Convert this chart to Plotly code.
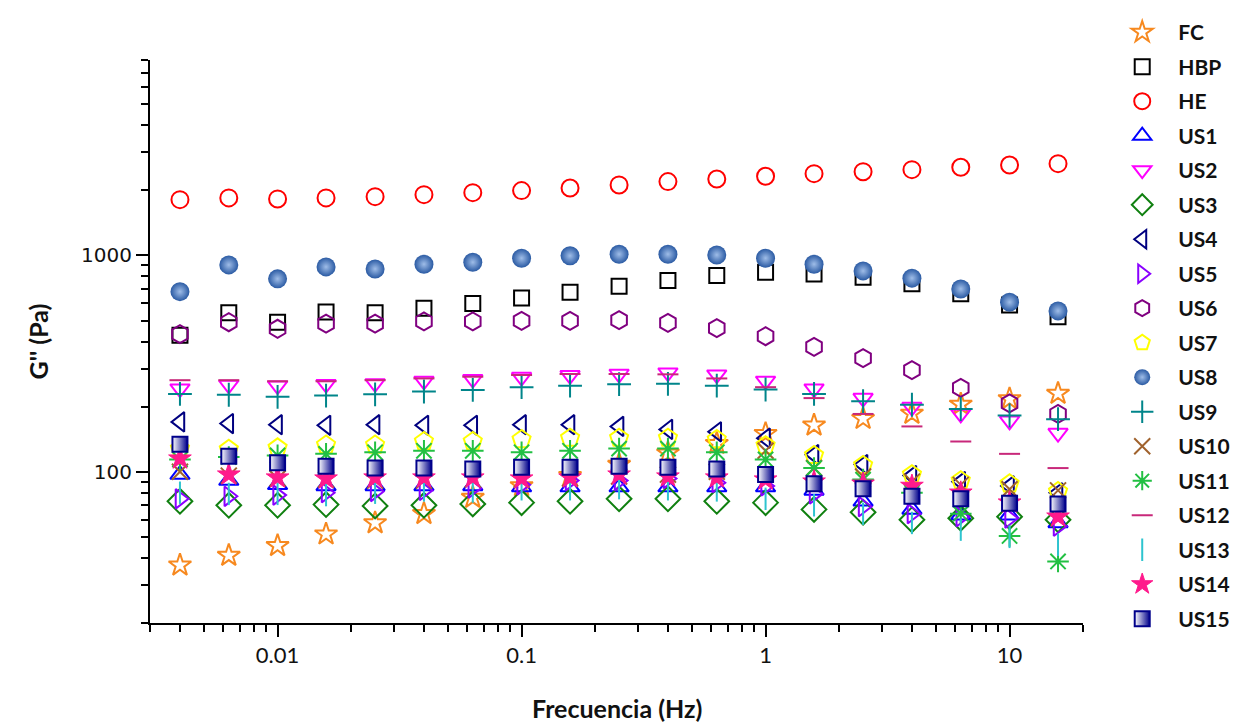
import plotly.graph_objects as go

freq = [0.00398, 0.00631, 0.01, 0.0158, 0.0251, 0.0398, 0.0631, 0.1, 0.158, 0.251,
        0.398, 0.631, 1.0, 1.58, 2.51, 3.98, 6.31, 10.0, 15.8]

FC = [37, 41, 45.5, 51.5, 58, 64, 76, 86, 96, 108, 122, 135, 150, 164, 176, 186, 205, 217, 230]
HBP = [428, 543, 491, 547, 543, 570, 599, 636, 676, 721, 765, 807, 836, 821, 793, 739, 664, 590, 520]
HE = [1810, 1844, 1824, 1844, 1869, 1909, 1950, 1993, 2050, 2117, 2193, 2256, 2322, 2387, 2438, 2491, 2555, 2618, 2655]
US1 = [97, 91, 87, 86, 86, 86, 86, 85, 85, 85, 85, 85, 85, 82, 73, 67, 63, 63, 58]
US2 = [242, 252, 250, 254, 256, 263, 268, 274, 279, 283, 287, 281, 263, 242, 219, 199, 185, 172, 151]
US3 = [73, 70, 70, 70.5, 69.5, 70, 71, 72, 73, 75, 75, 73, 72, 67, 65, 60, 61, 62, 60]
US4 = [170, 167, 165, 164, 165, 164, 164, 165, 165, 162, 157, 153, 143, 120, 108, 96, 90, 86, 80]
US5 = [75, 77, 78, 80, 81, 82, 84, 87, 91, 91, 93, 89, 86, 79, 69, 64, 62, 61, 56]
US6 = [433, 491, 458, 484, 484, 495, 495, 498, 498, 502, 488, 461, 423, 378, 335, 295, 244, 207, 185]
US7 = [128, 127, 129, 133, 133, 138, 138, 141, 143, 143, 143, 141, 132, 119, 107, 97, 91, 88, 81]
US8 = [680, 904, 779, 885, 866, 911, 930, 971, 996, 1013, 1013, 1005, 971, 911, 848, 785, 700, 608, 554]
US9 = [229, 227, 222, 225, 228, 235, 239, 246, 250, 254, 255, 250, 240, 229, 212, 204, 195, 182, 175]
US10 = [100, 96, 93, 92, 91, 91, 92, 92, 93, 95, 97, 100, 125, 104, 95, 90, 87, 83, 82]
US11 = [114, 117, 119, 121, 123, 125, 125, 123, 125, 128, 128, 123, 114, 104, 92, 80, 64, 50.5, 38.5]
US12 = [265, 265, 262, 262, 265, 270, 275, 280, 283, 283, 282, 270, 246, 219, 185, 162, 138, 121, 104]
US13 = [80, 79, 79, 78, 80, 82, 81, 83, 83, 84, 83, 82, 75, 70, 64, 58, 54, 50, 46]
US14 = [115, 97, 94, 93, 94, 94, 94, 93, 94, 97, 95, 94, 92, 90, 88, 86, 80, 72, 62]
US15 = [134, 118, 110, 106, 104, 104, 103, 105, 105, 106, 105, 103, 97, 88, 83.5, 77, 75, 71.6, 71]

x_tickvals = [0.01, 0.1, 1, 10]
x_ticktext = ["0.01", "0.1", "1", "10"]
y_tickvals = [100, 1000]
y_ticktext = ["100", "1000"]

series = [
    ("FC", FC, dict(symbol="star-open", size=17, color="#F7891F", line=dict(color="#F7891F", width=2))),
    ("HBP", HBP, dict(symbol="square-open", size=15, color="#000000", line=dict(color="#000000", width=2))),
    ("HE", HE, dict(symbol="circle-open", size=17, color="#FF0000", line=dict(color="#FF0000", width=2))),
    ("US1", US1, dict(symbol="triangle-up-open", size=17, color="#0000FF", line=dict(color="#0000FF", width=2))),
    ("US2", US2, dict(symbol="triangle-down-open", size=17, color="#FF00FF", line=dict(color="#FF00FF", width=2))),
    ("US3", US3, dict(symbol="diamond-open", size=19, color="#108010", line=dict(color="#108010", width=2))),
    ("US4", US4, dict(symbol="triangle-left-open", size=17, color="#000080", line=dict(color="#000080", width=2))),
    ("US5", US5, dict(symbol="triangle-right-open", size=17, color="#8A00FF", line=dict(color="#8A00FF", width=2))),
    ("US6", US6, dict(symbol="hexagon-open", size=18, color="#800080", line=dict(color="#800080", width=2))),
    ("US7", US7, dict(symbol="pentagon-open", size=19, color="#FFFF00", line=dict(color="#FFFF00", width=2))),
    ("US8", US8, dict(symbol="circle", size=19, color="#2A5AA3",
                      gradient=dict(type="radial", color="#9FBDE8"), line=dict(width=0))),
    ("US9", US9, dict(symbol="cross-thin-open", size=17, color="#00858A", line=dict(color="#00858A", width=2))),
    ("US10", US10, dict(symbol="x-thin-open", size=16, color="#A0622D", line=dict(color="#A0622D", width=2))),
    ("US11", US11, dict(symbol="asterisk-open", size=18, color="#22C043", line=dict(color="#22C043", width=2))),
    ("US12", US12, dict(symbol="line-ew-open", size=15, color="#C8287A", line=dict(color="#C8287A", width=2))),
    ("US13", US13, dict(symbol="line-ns-open", size=16, color="#2EC4CF", line=dict(color="#2EC4CF", width=2))),
    ("US14", US14, dict(symbol="star", size=17, color="#FF1A8C", line=dict(color="#FF1A8C", width=1))),
    ("US15", US15, dict(symbol="square", size=15, color="#FFFFFF",
                        gradient=dict(type="horizontal", color="#00008B"), line=dict(color="#00008B", width=2))),
]

fig = go.Figure()
for name, vals, mk in series:
    fig.add_trace(go.Scatter(x=freq, y=vals, mode="markers", name=name, marker=mk,
                             legendgroup=name, cliponaxis=False))

def minors(lo_exp, hi_exp, lo, hi):
    out = []
    for e in range(lo_exp, hi_exp + 1):
        for m in range(2, 10):
            v = m * 10 ** e
            if lo <= v <= hi:
                out.append(v)
    return out

fig.update_layout(
    width=1236, height=725,
    margin=dict(l=150, r=153, t=60, b=102, autoexpand=False),
    paper_bgcolor="white", plot_bgcolor="white",
    showlegend=True,
    legend=dict(xref="container", yref="container", x=0.895, xanchor="left",
                y=0.9834, yanchor="top",
                traceorder="grouped", tracegroupgap=4.2, maxheight=720,
                font=dict(family="Lato", size=21, color="#111111", weight="bold"),
                itemwidth=62, bgcolor="rgba(0,0,0,0)"),
    xaxis=dict(type="log", range=[-2.5229, 1.3010], showgrid=False, zeroline=False,
               automargin=False,
               showline=True, linecolor="black", linewidth=2,
               ticks="outside", ticklen=12, tickwidth=2, tickcolor="black",
               tickmode="array", tickvals=x_tickvals, ticktext=x_ticktext,
               tickfont=dict(family="Lato", size=22, color="#111111"),
               minor=dict(ticks="outside", ticklen=7, tickwidth=1.5, tickcolor="black",
                          tickmode="array", tickvals=minors(-3, 1, 0.003, 20), showgrid=False)),
    yaxis=dict(type="log", range=[1.3010, 3.9031], showgrid=False, zeroline=False,
               automargin=False,
               showline=True, linecolor="black", linewidth=2,
               ticks="outside", ticklen=12, tickwidth=2, tickcolor="black",
               tickmode="array", tickvals=y_tickvals, ticktext=y_ticktext,
               tickfont=dict(family="DejaVu Sans", size=20, color="#111111"),
               minor=dict(ticks="outside", ticklen=7, tickwidth=1.5, tickcolor="black",
                          tickmode="array", tickvals=minors(1, 3, 20, 8000), showgrid=False),
               title=dict(text="G'' (Pa)", standoff=25,
                          font=dict(family="Lato", size=25, color="#111111", weight="bold"))),
    annotations=[dict(text="<b>Frecuencia (Hz)</b>", xref="paper", yref="paper",
                      x=0.5, y=-0.151, xanchor="center", yanchor="middle", showarrow=False,
                      font=dict(family="Lato", size=25, color="#111111"))],
)

fig.write_html("out.html")
